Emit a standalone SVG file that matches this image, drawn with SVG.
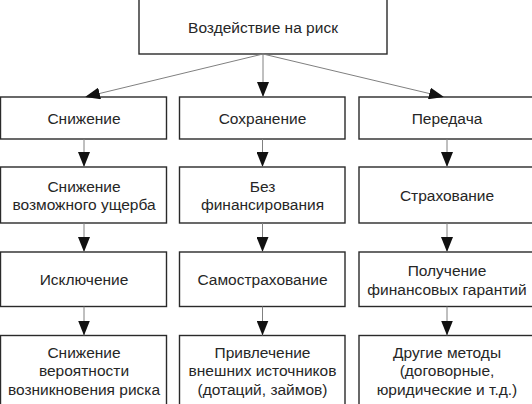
<svg xmlns="http://www.w3.org/2000/svg" width="532" height="404" viewBox="0 0 532 404">
<style>
.box{fill:#fff;stroke:#2a2a2a;stroke-width:1.4}
.t{font-family:"Liberation Sans",Arial,sans-serif;font-size:15.5px;fill:#262626;text-anchor:middle}
.c{stroke:#808080;stroke-width:1;fill:none;marker-end:url(#ah)}
</style>
<defs>
<marker id="ah" markerUnits="userSpaceOnUse" markerWidth="15" markerHeight="12" refX="15" refY="6" orient="auto">
<path d="M0,0 L15,6 L0,12 z" fill="#111"/>
</marker>
</defs>
<rect width="532" height="404" fill="#fff"/>
<g id="n0"><rect class="box" x="139" y="-5" width="248" height="59"/><text class="t" x="263" y="32.5">Воздействие на риск</text></g>

<g id="n1"><rect class="box" x="0.5" y="97" width="166" height="42"/><text class="t" x="84" y="123.5">Снижение</text></g>
<g id="n2"><rect class="box" x="179.5" y="97" width="165.5" height="42"/><text class="t" x="262.5" y="123.5">Сохранение</text></g>
<g id="n3"><rect class="box" x="359" y="97" width="180" height="42"/><text class="t" x="447" y="123.5">Передача</text></g>

<g id="n4"><rect class="box" x="0.5" y="167" width="166" height="56"/><text class="t" x="84" y="191.5">Снижение</text><text class="t" x="84" y="210">возможного ущерба</text></g>
<g id="n5"><rect class="box" x="179.5" y="167" width="165.5" height="56"/><text class="t" x="262.5" y="191.5">Без</text><text class="t" x="262.5" y="210">финансирования</text></g>
<g id="n6"><rect class="box" x="359" y="167" width="180" height="56"/><text class="t" x="447" y="200.5">Страхование</text></g>

<g id="n7"><rect class="box" x="0.5" y="252" width="166" height="54.5"/><text class="t" x="84" y="284.5">Исключение</text></g>
<g id="n8"><rect class="box" x="179.5" y="252" width="165.5" height="54.5"/><text class="t" x="262.5" y="284.5">Самострахование</text></g>
<g id="n9"><rect class="box" x="359" y="252" width="180" height="54.5"/><text class="t" x="447" y="275.5">Получение</text><text class="t" x="447" y="294.5">финансовых гарантий</text></g>

<g id="n10"><rect class="box" x="0.5" y="335.5" width="166" height="80"/><text class="t" x="84" y="357.5">Снижение</text><text class="t" x="84" y="376">вероятности</text><text class="t" x="84" y="394.5">возникновения риска</text></g>
<g id="n11"><rect class="box" x="179.5" y="335.5" width="165.5" height="80"/><text class="t" x="262.5" y="357.5">Привлечение</text><text class="t" x="262.5" y="376">внешних источников</text><text class="t" x="262.5" y="394.5">(дотаций, займов)</text></g>
<g id="n12"><rect class="box" x="359" y="335.5" width="180" height="80"/><text class="t" x="447" y="357.5">Другие методы</text><text class="t" x="447" y="376">(договорные,</text><text class="t" x="447" y="394.5">юридические и т.д.)</text></g>

<g id="connectors">
<line class="c" x1="263" y1="54" x2="85" y2="97"/>
<line class="c" x1="263" y1="54" x2="263" y2="97"/>
<line class="c" x1="263" y1="54" x2="444" y2="97"/>
<line class="c" x1="84" y1="139" x2="84" y2="167"/>
<line class="c" x1="262.5" y1="139" x2="262.5" y2="167"/>
<line class="c" x1="447" y1="139" x2="447" y2="167"/>
<line class="c" x1="84" y1="223" x2="84" y2="252"/>
<line class="c" x1="262.5" y1="223" x2="262.5" y2="252"/>
<line class="c" x1="447" y1="223" x2="447" y2="252"/>
<line class="c" x1="84" y1="306.5" x2="84" y2="335.5"/>
<line class="c" x1="262.5" y1="306.5" x2="262.5" y2="335.5"/>
<line class="c" x1="447" y1="306.5" x2="447" y2="335.5"/>
</g>
</svg>
